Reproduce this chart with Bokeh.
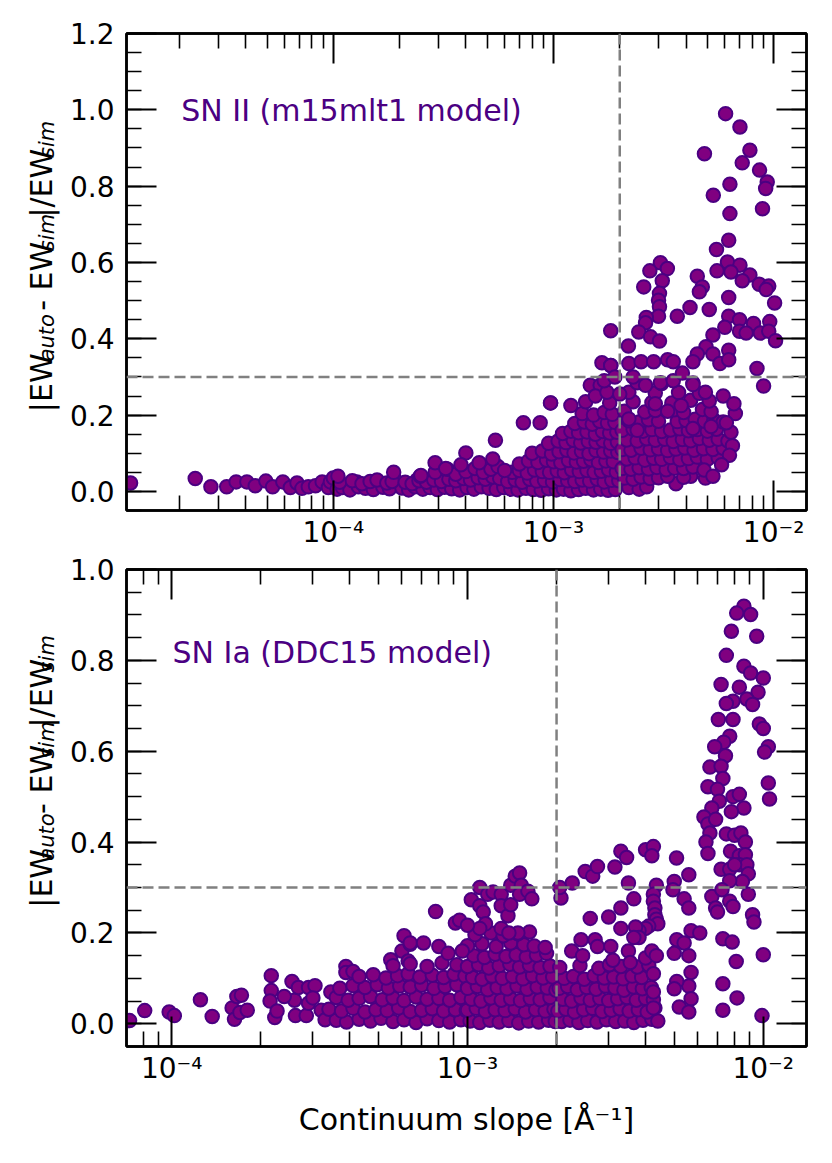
import math
from bokeh.plotting import figure
from bokeh.models import (ColumnDataSource, Span, Label, LinearAxis, LogAxis,
                          FixedTicker, PrintfTickFormatter, CustomJSTickFormatter, Range1d)
from bokeh.layouts import column, row
from bokeh.core.properties import value
from bokeh.embed import file_html
from bokeh.resources import INLINE

# ---------------- data: SN II (m15mlt1 model) ----------------
# isolated points at small slopes (x = continuum slope [1/A], y = |EW_auto - EW_sim|/EW_sim)
sn2_tail = [(1.2e-5, 0.022), (2.36e-5, 0.034), (2.78e-5, 0.012), (3.28e-5, 0.012), (3.62e-5, 0.025),
            (4.05e-5, 0.025), (4.42e-5, 0.015), (4.94e-5, 0.027), (5.3e-5, 0.012), (5.9e-5, 0.025),
            (6.38e-5, 0.010), (6.84e-5, 0.022), (7.2e-5, 0.008), (7.7e-5, 0.012), (8.3e-5, 0.015),
            (8.9e-5, 0.025), (9.5e-5, 0.010), (9.7e-5, 0.025), (1.0e-4, 0.035), (1.15e-4, 0.015),
            (1.28e-4, 0.025), (1.42e-4, 0.015), (1.63e-4, 0.022), (1.91e-4, 0.030), (1.97e-4, 0.015),
            (2.4e-4, 0.030)]
# dense band, read row by row (slopes, errors)
sn2_rows = [
    ([1.04e-4, 1.1e-4, 1.19e-4, 1.3e-4, 1.4e-4, 1.52e-4, 1.68e-4, 1.8e-4, 2.05e-4, 2.2e-4, 2.35e-4, 2.55e-4,
      2.75e-4, 2.97e-4, 3.2e-4, 3.45e-4, 3.75e-4, 4.05e-4, 4.35e-4, 4.7e-4, 5.1e-4, 5.5e-4, 5.95e-4],
     [.006, .010, .004, .012, .008, .005, .011, .007, .009, .004, .012, .006, .010, .005, .011, .007, .004,
      .010, .006, .012, .008, .005, .010]),
    ([1.07e-4, 1.22e-4, 1.35e-4, 1.47e-4, 1.58e-4, 1.75e-4, 1.85e-4, 2.12e-4, 2.28e-4, 2.45e-4, 2.65e-4,
      2.86e-4, 3.1e-4, 3.35e-4, 3.6e-4, 3.9e-4, 4.2e-4, 4.55e-4, 4.9e-4, 5.3e-4, 5.7e-4],
     [.024, .028, .020, .026, .030, .022, .026, .024, .020, .028, .024, .030, .026, .032, .028, .034, .030,
      .036, .032, .038, .034]),
    ([6.4e-4, 6.9e-4, 7.5e-4, 8.1e-4, 8.8e-4, 9.5e-4, 1.03e-3, 1.11e-3, 1.2e-3, 1.3e-3, 1.4e-3, 1.52e-3,
      1.64e-3, 1.77e-3, 1.91e-3],
     [.006, .004, .008, .005, .003, .007, .004, .006, .002, .005, .008, .004, .006, .003, .005]),
    ([6.2e-4, 6.7e-4, 7.2e-4, 7.8e-4, 8.4e-4, 9.1e-4, 9.9e-4, 1.07e-3, 1.16e-3, 1.25e-3, 1.35e-3, 1.46e-3,
      1.58e-3, 1.7e-3, 1.84e-3, 1.98e-3],
     [.026, .030, .024, .032, .027, .029, .025, .031, .028, .026, .030, .027, .032, .025, .029, .028]),
    ([6.5e-4, 7.0e-4, 7.6e-4, 8.2e-4, 8.9e-4, 9.6e-4, 1.04e-3, 1.12e-3, 1.21e-3, 1.31e-3, 1.42e-3, 1.53e-3,
      1.65e-3, 1.78e-3, 1.93e-3],
     [.050, .055, .048, .056, .052, .050, .054, .049, .056, .052, .055, .050, .053, .057, .051]),
    ([7.0e-4, 7.7e-4, 8.5e-4, 9.3e-4, 1.0e-3, 1.08e-3, 1.17e-3, 1.27e-3, 1.37e-3, 1.48e-3, 1.6e-3, 1.73e-3,
      1.87e-3],
     [.072, .080, .076, .082, .078, .075, .081, .077, .079, .083, .076, .080, .078]),
    ([8.0e-4, 8.9e-4, 9.8e-4, 1.06e-3, 1.15e-3, 1.24e-3, 1.34e-3, 1.45e-3, 1.56e-3, 1.69e-3, 1.82e-3, 1.96e-3],
     [.100, .106, .098, .104, .108, .101, .105, .099, .107, .103, .106, .102]),
    ([9.5e-4, 1.05e-3, 1.14e-3, 1.23e-3, 1.33e-3, 1.44e-3, 1.56e-3, 1.68e-3, 1.82e-3, 1.95e-3],
     [.126, .132, .128, .134, .127, .131, .129, .133, .126, .130]),
    ([1.1e-3, 1.2e-3, 1.3e-3, 1.42e-3, 1.55e-3, 1.67e-3, 1.8e-3, 1.94e-3],
     [.152, .158, .154, .156, .150, .157, .153, .155]),
    ([1.25e-3, 1.38e-3, 1.5e-3, 1.62e-3, 1.76e-3, 1.9e-3], [.178, .182, .176, .184, .179, .181]),
    ([1.35e-3, 1.52e-3, 1.7e-3, 1.85e-3], [.204, .200, .207, .202]),
    ([2.2e-3, 2.45e-3, 2.65e-3, 3.6e-3, 4.2e-3, 4.9e-3], [.010, .006, .012, .020, .040, .035]),
    ([2.1e-3, 2.3e-3, 2.5e-3, 2.75e-3, 3.0e-3, 3.3e-3, 3.9e-3], [.035, .032, .038, .034, .036, .040, .037]),
    ([2.05e-3, 2.25e-3, 2.45e-3, 2.7e-3, 2.95e-3, 3.25e-3, 3.55e-3, 3.9e-3, 4.3e-3],
     [.060, .058, .062, .059, .063, .057, .061, .060, .064]),
    ([2.15e-3, 2.35e-3, 2.6e-3, 2.85e-3, 3.1e-3, 3.4e-3, 3.75e-3, 4.1e-3, 4.5e-3, 5.0e-3, 5.6e-3],
     [.085, .088, .082, .087, .084, .089, .083, .086, .090, .084, .088]),
    ([2.05e-3, 2.25e-3, 2.5e-3, 2.75e-3, 3.0e-3, 3.3e-3, 3.6e-3, 3.95e-3, 4.35e-3, 4.8e-3, 5.3e-3, 5.9e-3],
     [.110, .108, .113, .109, .112, .107, .111, .114, .108, .112, .110, .113]),
    ([2.15e-3, 2.4e-3, 2.65e-3, 2.9e-3, 3.2e-3, 3.5e-3, 3.85e-3, 4.2e-3, 4.6e-3, 5.1e-3, 5.6e-3, 6.2e-3],
     [.135, .132, .138, .134, .137, .131, .136, .133, .139, .134, .137, .132]),
    ([2.05e-3, 2.3e-3, 2.55e-3, 2.8e-3, 3.1e-3, 3.4e-3, 3.75e-3, 4.1e-3, 4.5e-3, 5.0e-3, 5.5e-3, 6.4e-3],
     [.160, .163, .158, .162, .157, .161, .164, .159, .162, .158, .163, .155]),
    ([2.2e-3, 2.45e-3, 2.7e-3, 3.0e-3, 3.65e-3, 4.0e-3, 4.4e-3, 4.85e-3, 5.35e-3, 5.9e-3],
     [.185, .182, .188, .184, .183, .186, .189, .184, .187, .182]),
    ([2.1e-3, 2.6e-3, 2.9e-3, 3.55e-3, 3.9e-3, 4.75e-3, 5.2e-3],
     [.210, .208, .212, .214, .207, .215, .209]),
    ([2.3e-3, 2.8e-3, 3.45e-3, 4.2e-3, 5.1e-3], [.235, .233, .232, .239, .237]),
    ([2.2e-3, 2.9e-3, 3.7e-3, 4.6e-3], [.260, .258, .259, .257]),
    ([2.4e-3, 3.1e-3, 4.3e-3], [.285, .283, .284]),
]
# scattered / high points
sn2_high = [(1.05e-4, 0.040), (1.88e-4, 0.050), (2.48e-4, 0.040), (2.5e-4, 0.042), (2.9e-4, 0.050),
            (3.3e-4, 0.058), (3.6e-4, 0.045), (4.0e-4, 0.052), (4.4e-4, 0.060), (4.8e-4, 0.050),
            (5.2e-4, 0.058), (5.6e-4, 0.065), (6.0e-4, 0.055), (2.9e-4, 0.075), (4.0e-4, 0.101),
            (5.45e-4, 0.134), (4.6e-4, 0.075), (5.3e-4, 0.085), (3.8e-4, 0.070), (3.24e-4, 0.060),
            (7.3e-4, 0.180), (8.7e-4, 0.180), (9.7e-4, 0.232), (1.4e-3, 0.235), (1.47e-3, 0.278),
            (1.63e-3, 0.278), (1.66e-3, 0.337), (1.82e-3, 0.330), (1.8e-3, 0.232), (1.82e-3, 0.421),
            (1.55e-3, 0.250), (1.75e-3, 0.260), (1.2e-3, 0.225),
            (6.05e-3, 0.990), (7.03e-3, 0.955), (4.85e-3, 0.885), (7.8e-3, 0.894), (7.2e-3, 0.861),
            (8.63e-3, 0.842), (9.35e-3, 0.811), (9.2e-3, 0.794), (6.33e-3, 0.805), (5.32e-3, 0.776),
            (8.9e-3, 0.741), (6.33e-3, 0.728), (6.25e-3, 0.658), (5.5e-3, 0.634), (6.17e-3, 0.601),
            (5.53e-3, 0.578), (7.03e-3, 0.593), (6.4e-3, 0.575), (7.8e-3, 0.567), (7.2e-3, 0.552),
            (8.6e-3, 0.543), (9.5e-3, 0.538), (9.25e-3, 0.529), (1.01e-2, 0.494), (6.25e-3, 0.508),
            (3.06e-3, 0.599), (3.29e-3, 0.584), (2.74e-3, 0.578), (3.12e-3, 0.552), (2.57e-3, 0.536),
            (3.03e-3, 0.519), (3.0e-3, 0.501), (3.03e-3, 0.484), (3.0e-3, 0.459), (4.5e-3, 0.564),
            (4.74e-3, 0.536), (4.6e-3, 0.523), (4.17e-3, 0.482), (3.65e-3, 0.459), (5.1e-3, 0.477),
            (2.64e-3, 0.456), (2.62e-3, 0.442), (2.44e-3, 0.418), (2.76e-3, 0.405), (3.03e-3, 0.394),
            (6.25e-3, 0.459), (7.0e-3, 0.450), (8.1e-3, 0.440), (9.6e-3, 0.445), (6.0e-3, 0.430),
            (7.0e-3, 0.420), (7.5e-3, 0.415), (8.7e-3, 0.415), (9.5e-3, 0.420), (1.02e-2, 0.395),
            (5.3e-3, 0.410), (4.93e-3, 0.379), (4.5e-3, 0.360), (4.3e-3, 0.340), (5.3e-3, 0.360),
            (5.7e-3, 0.335), (6.25e-3, 0.370), (6.25e-3, 0.345), (8.4e-3, 0.322), (9.0e-3, 0.276),
            (2.19e-3, 0.381), (1.82e-3, 0.330), (2.2e-3, 0.335), (2.5e-3, 0.340), (2.85e-3, 0.340),
            (3.3e-3, 0.345), (3.5e-3, 0.340), (2.62e-3, 0.278), (3.06e-3, 0.285), (3.5e-3, 0.290),
            (3.85e-3, 0.310), (4.3e-3, 0.280), (4.9e-3, 0.260), (5.9e-3, 0.250), (6.7e-3, 0.204),
            (6.1e-3, 0.180), (9.7e-4, 0.232), (2.2e-3, 0.190), (2.4e-3, 0.160), (2.9e-3, 0.230),
            (3.3e-3, 0.210), (3.8e-3, 0.225), (4.3e-3, 0.165), (5.2e-3, 0.170), (4.83e-3, 0.056),
            (5.3e-3, 0.040), (1.7e-3, 0.290), (1.9e-3, 0.300), (2.0e-3, 0.255), (2.3e-3, 0.300),
            (6.5e-3, 0.120), (6.3e-3, 0.095), (5.8e-3, 0.070), (6.6e-3, 0.230)]

# ---------------- data: SN Ia (DDC15 model) ----------------
sn1_tail = [(7.2e-5, 0.007), (8.1e-5, 0.029), (9.8e-5, 0.026), (1.02e-4, 0.018), (1.25e-4, 0.053),
            (1.37e-4, 0.016), (1.6e-4, 0.035), (1.63e-4, 0.010), (1.66e-4, 0.060), (1.72e-4, 0.063),
            (1.7e-4, 0.025), (1.8e-4, 0.030), (2.17e-4, 0.106), (2.17e-4, 0.073), (2.15e-4, 0.050),
            (2.23e-4, 0.014), (2.27e-4, 0.028), (2.55e-4, 0.093), (2.6e-4, 0.052), (2.68e-4, 0.080),
            (2.62e-4, 0.018), (2.85e-4, 0.018), (2.9e-4, 0.080), (2.9e-4, 0.045), (3.05e-4, 0.084),
            (3.0e-4, 0.057), (3.2e-4, 0.030), (3.3e-4, 0.009), (3.88e-4, 0.126), (3.88e-4, 0.113),
            (4.1e-4, 0.115), (5.5e-4, 0.141), (6.1e-4, 0.194), (6.0e-4, 0.160), (6.4e-4, 0.175),
            (6.3e-4, 0.138), (3.45e-4, 0.070), (2.4e-4, 0.060)]
sn1_rows = [
    ([3.6e-4, 3.9e-4, 4.3e-4, 4.7e-4, 5.1e-4, 5.6e-4, 6.1e-4, 6.7e-4, 7.3e-4, 8.0e-4, 8.7e-4, 9.5e-4],
     [.008, .004, .010, .006, .012, .005, .009, .003, .011, .007, .004, .009]),
    ([3.4e-4, 3.75e-4, 4.1e-4, 4.5e-4, 4.9e-4, 5.35e-4, 5.85e-4, 6.4e-4, 7.0e-4, 7.6e-4, 8.3e-4, 9.1e-4, 9.9e-4],
     [.032, .028, .034, .026, .031, .029, .035, .027, .030, .033, .028, .031, .029]),
    ([3.6e-4, 3.95e-4, 4.3e-4, 4.7e-4, 5.15e-4, 5.6e-4, 6.1e-4, 6.7e-4, 7.3e-4, 8.0e-4, 8.7e-4, 9.5e-4],
     [.058, .052, .056, .060, .053, .057, .051, .059, .054, .056, .052, .058]),
    ([3.7e-4, 4.1e-4, 4.5e-4, 4.95e-4, 5.4e-4, 5.9e-4, 6.4e-4, 7.0e-4, 7.7e-4, 8.4e-4, 9.2e-4, 1.0e-3],
     [.078, .084, .080, .086, .079, .083, .081, .085, .078, .082, .086, .080]),
    ([4.3e-4, 4.8e-4, 5.3e-4, 5.8e-4, 6.3e-4, 6.9e-4, 7.6e-4, 8.3e-4, 9.0e-4, 9.8e-4],
     [.104, .108, .101, .106, .110, .103, .107, .102, .109, .105]),
    ([5.6e-4, 6.4e-4, 7.3e-4, 8.2e-4, 9.2e-4], [.128, .132, .126, .134, .130]),
    ([1.02e-3, 1.1e-3, 1.19e-3, 1.28e-3, 1.38e-3, 1.49e-3, 1.61e-3, 1.74e-3, 1.88e-3, 1.98e-3],
     [.006, .003, .008, .004, .007, .002, .006, .004, .008, .005]),
    ([1.0e-3, 1.07e-3, 1.15e-3, 1.24e-3, 1.34e-3, 1.45e-3, 1.57e-3, 1.7e-3, 1.83e-3, 1.96e-3],
     [.030, .034, .027, .031, .029, .033, .026, .031, .028, .032]),
    ([1.03e-3, 1.11e-3, 1.2e-3, 1.3e-3, 1.4e-3, 1.51e-3, 1.63e-3, 1.76e-3, 1.9e-3],
     [.054, .050, .057, .052, .055, .051, .056, .053, .058]),
    ([1.0e-3, 1.08e-3, 1.17e-3, 1.26e-3, 1.36e-3, 1.47e-3, 1.59e-3, 1.72e-3, 1.86e-3, 1.99e-3],
     [.078, .082, .075, .080, .077, .083, .076, .081, .079, .074]),
    ([1.04e-3, 1.12e-3, 1.21e-3, 1.31e-3, 1.42e-3, 1.54e-3, 1.66e-3, 1.8e-3, 1.94e-3],
     [.102, .098, .105, .100, .104, .099, .106, .101, .103]),
    ([1.0e-3, 1.09e-3, 1.18e-3, 1.28e-3, 1.39e-3, 1.5e-3, 1.62e-3, 1.76e-3, 1.9e-3],
     [.126, .130, .123, .128, .131, .125, .129, .124, .127]),
    ([1.05e-3, 1.14e-3, 1.24e-3, 1.35e-3, 1.46e-3, 1.58e-3, 1.71e-3, 1.85e-3],
     [.150, .146, .153, .148, .152, .147, .151, .155]),
    ([1.0e-3, 1.12e-3, 1.25e-3, 1.4e-3, 1.55e-3, 1.68e-3, 1.83e-3], [.172, .176, .170, .178, .174, .171, .168]),
    ([1.06e-3, 1.2e-3, 1.32e-3, 1.48e-3, 1.62e-3], [.196, .200, .194, .198, .202]),
    ([2.08e-3, 2.22e-3, 2.38e-3, 2.55e-3, 2.74e-3, 2.95e-3, 3.17e-3, 3.4e-3, 3.65e-3, 3.92e-3, 4.2e-3, 4.4e-3],
     [.005, .008, .003, .007, .004, .009, .005, .006, .003, .008, .010, .006]),
    ([2.02e-3, 2.15e-3, 2.3e-3, 2.47e-3, 2.65e-3, 2.85e-3, 3.06e-3, 3.28e-3, 3.52e-3, 3.78e-3, 4.05e-3, 4.3e-3],
     [.028, .032, .026, .031, .034, .027, .030, .033, .028, .031, .026, .035]),
    ([2.1e-3, 2.25e-3, 2.42e-3, 2.6e-3, 2.8e-3, 3.0e-3, 3.22e-3, 3.46e-3, 3.72e-3, 4.0e-3, 4.25e-3],
     [.054, .050, .057, .052, .056, .051, .055, .058, .052, .056, .053]),
    ([2.04e-3, 2.18e-3, 2.35e-3, 2.53e-3, 2.72e-3, 2.93e-3, 3.15e-3, 3.38e-3, 3.64e-3, 3.9e-3, 4.18e-3],
     [.078, .082, .075, .080, .076, .083, .079, .074, .081, .077, .080]),
    ([2.12e-3, 2.28e-3, 2.48e-3, 2.68e-3, 2.9e-3, 3.12e-3, 3.36e-3, 3.6e-3, 3.88e-3],
     [.100, .104, .098, .106, .101, .103, .099, .105, .102]),
    ([2.05e-3, 2.4e-3, 2.78e-3, 3.02e-3, 3.3e-3, 3.75e-3, 4.1e-3], [.124, .128, .122, .130, .126, .125, .129]),
]
sn1_high = [(7.8e-4, 0.247), (9.1e-4, 0.222), (9.4e-4, 0.228), (6.4e-4, 0.178), (7.1e-4, 0.178),
            (8.0e-4, 0.170), (8.6e-4, 0.155), (9.6e-4, 0.160),
            (1.03e-3, 0.273), (1.1e-3, 0.300), (1.1e-3, 0.260), (1.13e-3, 0.246), (1.17e-3, 0.285),
            (1.22e-3, 0.290), (1.3e-3, 0.285), (1.3e-3, 0.260), (1.37e-3, 0.238), (1.4e-3, 0.262),
            (1.4e-3, 0.305), (1.45e-3, 0.325), (1.5e-3, 0.332), (1.52e-3, 0.305), (1.5e-3, 0.285),
            (1.6e-3, 0.292), (1.65e-3, 0.275), (1.3e-3, 0.210), (1.48e-3, 0.200), (1.38e-3, 0.200),
            (1.15e-3, 0.220), (1.1e-3, 0.210), (1.0e-3, 0.217),
            (2.07e-3, 0.277), (2.05e-3, 0.300), (2.26e-3, 0.310), (2.5e-3, 0.335), (2.65e-3, 0.325),
            (2.75e-3, 0.346), (3.15e-3, 0.345), (3.3e-3, 0.380), (3.45e-3, 0.366), (4.0e-3, 0.383),
            (4.25e-3, 0.390), (4.2e-3, 0.370), (3.5e-3, 0.310), (3.65e-3, 0.275), (4.35e-3, 0.305),
            (4.25e-3, 0.285), (4.25e-3, 0.270), (4.3e-3, 0.255), (4.3e-3, 0.240), (4.35e-3, 0.230),
            (4.4e-3, 0.220), (4.1e-3, 0.215), (4.0e-3, 0.210), (3.8e-3, 0.205), (3.7e-3, 0.213),
            (3.8e-3, 0.190), (3.3e-3, 0.255), (3.0e-3, 0.235), (2.6e-3, 0.232), (3.3e-3, 0.210),
            (2.42e-3, 0.185), (2.7e-3, 0.185), (2.25e-3, 0.160), (2.45e-3, 0.150), (2.75e-3, 0.170),
            (3.05e-3, 0.170), (3.5e-3, 0.160), (3.65e-3, 0.190), (3.1e-3, 0.140), (3.55e-3, 0.135),
            (4.0e-3, 0.145), (4.2e-3, 0.160), (4.35e-3, 0.150), (4.25e-3, 0.110), (4.25e-3, 0.070),
            (4.25e-3, 0.035),
            (5.09e-3, 0.365), (5.6e-3, 0.328), (5.0e-3, 0.313), (4.95e-3, 0.295), (5.4e-3, 0.275),
            (5.6e-3, 0.255), (5.7e-3, 0.205), (6.1e-3, 0.200), (5.1e-3, 0.185), (5.4e-3, 0.178),
            (5.0e-3, 0.155), (5.6e-3, 0.150), (5.7e-3, 0.113), (5.6e-3, 0.083), (5.7e-3, 0.055),
            (5.1e-3, 0.093), (5.0e-3, 0.077), (5.2e-3, 0.037), (5.6e-3, 0.026),
            (8.6e-3, 0.919), (8.13e-3, 0.904), (9.06e-3, 0.901), (7.8e-3, 0.864), (9.5e-3, 0.853),
            (7.5e-3, 0.811), (8.6e-3, 0.787), (9.06e-3, 0.772), (1.0e-2, 0.761), (7.2e-3, 0.747),
            (8.3e-3, 0.741), (9.6e-3, 0.730), (7.9e-3, 0.710), (7.5e-3, 0.705), (8.8e-3, 0.715),
            (9.2e-3, 0.703), (7.05e-3, 0.670), (7.9e-3, 0.670), (9.7e-3, 0.660), (1.0e-2, 0.650),
            (7.7e-3, 0.633), (7.35e-3, 0.620), (6.85e-3, 0.610), (7.45e-3, 0.590), (1.04e-2, 0.610),
            (1.01e-2, 0.598), (6.6e-3, 0.565), (7.2e-3, 0.567), (7.3e-3, 0.540), (6.5e-3, 0.522),
            (7.0e-3, 0.516), (1.04e-2, 0.530), (1.05e-2, 0.495), (7.1e-3, 0.490), (6.7e-3, 0.475),
            (6.3e-3, 0.455), (6.5e-3, 0.440), (6.9e-3, 0.450), (6.6e-3, 0.420), (7.9e-3, 0.500),
            (8.3e-3, 0.505), (8.6e-3, 0.475), (7.8e-3, 0.467), (7.5e-3, 0.418), (8.0e-3, 0.415),
            (8.4e-3, 0.420), (8.7e-3, 0.400), (6.4e-3, 0.400), (6.5e-3, 0.375), (7.75e-3, 0.380),
            (8.3e-3, 0.370), (8.7e-3, 0.372), (8.3e-3, 0.350), (8.8e-3, 0.350), (7.2e-3, 0.340),
            (7.7e-3, 0.340), (8.0e-3, 0.350), (8.9e-3, 0.330), (8.5e-3, 0.313), (7.7e-3, 0.315),
            (8.9e-3, 0.285), (6.7e-3, 0.280), (7.25e-3, 0.295), (6.9e-3, 0.255), (7.0e-3, 0.246),
            (7.7e-3, 0.270), (7.9e-3, 0.258), (9.2e-3, 0.240), (9.3e-3, 0.224), (7.3e-3, 0.187),
            (7.85e-3, 0.180), (1.0e-2, 0.152), (8.1e-3, 0.137), (7.3e-3, 0.088), (8.15e-3, 0.057),
            (7.3e-3, 0.030), (9.9e-3, 0.018)]

# ---------------- helpers ----------------
FONT = "DejaVu Sans"
FILL = "#800080"
EDGE = "#4B0082"
TICK_FS = "28px"
# DejaVu Sans advance widths (units per 2048 em) for the y-label pieces
ADV = {"|": 690, "E": 1294, "W": 2025, " ": 651, "-": 739, "/": 690, "a": 1255, "u": 1298,
       "t": 803, "o": 1253, "s": 1067, "i": 569, "m": 1995}

LABEL_W = 64          # width of the strip that holds the rotated y label
FRAME_W = 680


def text_width(s, size):
    return sum(ADV[c] for c in s) / 2048.0 * size


def gather(tail, rows, high):
    xs = [p[0] for p in tail]
    ys = [p[1] for p in tail]
    for rx, ry in rows:
        xs += rx
        ys += ry
    xs += [p[0] for p in high]
    ys += [p[1] for p in high]
    return xs, ys


sup_fmt = CustomJSTickFormatter(code=r"""
const sup = {"-": "\u207b", "0": "\u2070", "1": "\u00b9", "2": "\u00b2", "3": "\u00b3",
             "4": "\u2074", "5": "\u2075", "6": "\u2076", "7": "\u2077", "8": "\u2078", "9": "\u2079"};
const e = Math.round(Math.log10(tick));
return "10" + String(e).split("").map(c => sup[c]).join("");
""")
blank_fmt = CustomJSTickFormatter(code="return ''")

x_major = [1e-5, 1e-4, 1e-3, 1e-2]
x_minor = [m * 10.0 ** e for e in range(-6, -1) for m in range(2, 10)]


def style_axis(ax, labels=True):
    ax.axis_line_width = 2.5
    ax.axis_line_color = "black"
    ax.major_tick_in = 30
    ax.major_tick_out = 0
    ax.minor_tick_in = 15
    ax.minor_tick_out = 0
    ax.major_tick_line_width = 2
    ax.minor_tick_line_width = 1.6
    ax.major_tick_line_color = "black"
    ax.minor_tick_line_color = "black"
    ax.major_label_text_font = FONT
    ax.major_label_text_font_size = TICK_FS
    ax.major_label_text_color = "black"
    if not labels:
        ax.major_label_standoff = 0


def ylabel_strip(height, frame_top, frame_h):
    """Narrow plot holding the rotated label |EW_auto - EW_sim|/EW_sim (1 data unit = 1 px)."""
    f = figure(width=LABEL_W, height=height, x_range=Range1d(0, LABEL_W), y_range=Range1d(0, height),
               title=None, x_axis_location=None, y_axis_location=None,
               output_backend="svg", toolbar_location=None,
               min_border_left=0, min_border_right=0, min_border_top=0, min_border_bottom=0)
    f.xgrid.visible = False
    f.ygrid.visible = False
    f.outline_line_color = None
    f.background_fill_color = "white"
    f.border_fill_color = "white"
    big, small = 30, 21
    # (text, is_subscript, gap before the piece in px) -- leading blanks are collapsed in SVG,
    # so the space before "- EW" is given as an explicit gap
    pieces = [("|EW", False, 0.0), ("auto", True, 0.0), ("- EW", False, 1.5 + text_width(" ", big)),
              ("sim", True, 0.0), ("|/EW", False, 1.5), ("sim", True, 0.0)]
    total = sum(g + text_width(t, small if s else big) for t, s, g in pieces)
    center_from_top = frame_top + frame_h / 2.0
    pos = height - (center_from_top + total / 2.0)
    base_x = 51.0           # baseline of the main text (page px)
    for txt, sub, gap in pieces:
        size = small if sub else big
        pos += gap
        bl = base_x + (3 if sub else 0)
        # centred text baseline: shifted from the alphabetic baseline by (ascent-descent)/2
        cx = bl - 0.346 * size
        f.text(x=[cx], y=[pos], text=[txt], angle=math.pi / 2,
               text_font=value(FONT), text_font_size=value(f"{size}px"),
               text_font_style="italic" if sub else "normal", text_color="black",
               text_align="left", text_baseline="middle")
        pos += text_width(txt, size)
    return f


def make_panel(xs, ys, xr, yr, ymax, height, btop, bbottom, note, note_x, note_y, xlabel=None):
    left_border = 126 - LABEL_W
    p = figure(width=left_border + FRAME_W + 26, height=height, x_axis_type="log",
               x_range=Range1d(*xr), y_range=Range1d(*yr), title=None,
               output_backend="svg", toolbar_location=None,
               min_border_left=left_border, min_border_right=26,
               min_border_top=btop, min_border_bottom=bbottom)
    p.xgrid.visible = False
    p.ygrid.visible = False
    p.outline_line_color = "black"
    p.outline_line_width = 2.5
    p.background_fill_color = "white"
    p.border_fill_color = "white"

    y_major = [round(0.2 * k, 1) for k in range(0, int(round(ymax / 0.2)) + 1)]
    y_minor = [round(0.05 * k, 2) for k in range(-1, int(round(ymax / 0.05)) + 1)]

    xb = p.xaxis[0]
    xb.ticker = FixedTicker(ticks=x_major, minor_ticks=x_minor)
    xb.formatter = sup_fmt
    style_axis(xb)
    xb.major_label_standoff = 5
    if xlabel:
        xb.axis_label = xlabel
        xb.axis_label_text_font = FONT
        xb.axis_label_text_font_size = "30px"
        xb.axis_label_text_font_style = "normal"
        xb.axis_label_text_color = "black"
        xb.axis_label_standoff = 14

    yl = p.yaxis[0]
    yl.ticker = FixedTicker(ticks=y_major, minor_ticks=y_minor)
    yl.formatter = PrintfTickFormatter(format="%.1f")
    style_axis(yl)
    yl.major_label_standoff = 12

    xt = LogAxis(ticker=FixedTicker(ticks=x_major, minor_ticks=x_minor), formatter=blank_fmt)
    style_axis(xt, labels=False)
    p.add_layout(xt, "above")
    yr_ax = LinearAxis(ticker=FixedTicker(ticks=y_major, minor_ticks=y_minor), formatter=blank_fmt)
    style_axis(yr_ax, labels=False)
    p.add_layout(yr_ax, "right")

    src = ColumnDataSource(data=dict(x=xs, y=ys))
    p.scatter(x="x", y="y", source=src, size=13.5, fill_color=FILL, line_color=EDGE, line_width=2)

    for loc, dim in ((0.3, "width"), (2e-3, "height")):
        p.add_layout(Span(location=loc, dimension=dim, line_color="#808080",
                          line_dash="11 5", line_width=2.5))

    p.add_layout(Label(x=note_x, y=note_y, text=note, text_font=FONT, text_font_size="30px",
                       text_color=EDGE, text_baseline="alphabetic", text_align="left"))
    return p


x2, y2 = gather(sn2_tail, sn2_rows, sn2_high)
x1, y1 = gather(sn1_tail, sn1_rows, sn1_high)

H1, T1, F1, B1 = 551, 33, 478, 40
H2, T2, F2, B2 = 595, 18, 477, 100

top = make_panel(x2, y2, (1.15e-5, 1.41e-2), (-0.05, 1.2), 1.2, H1, T1, B1,
                 "SN II (m15mlt1 model)", 2.04e-5, 0.999)
bottom = make_panel(x1, y1, (7.03e-5, 1.40e-2), (-0.05, 1.0), 1.0, H2, T2, B2,
                    "SN Ia (DDC15 model)", 1.006e-4, 0.818,
                    xlabel="Continuum slope [\u00c5\u207b\u00b9]")

layout = column(row(ylabel_strip(H1, T1, F1), top, spacing=0),
                row(ylabel_strip(H2, T2, F2), bottom, spacing=0), spacing=0)
with open("out.html", "w", encoding="utf-8") as f:
    f.write(file_html(layout, INLINE))
